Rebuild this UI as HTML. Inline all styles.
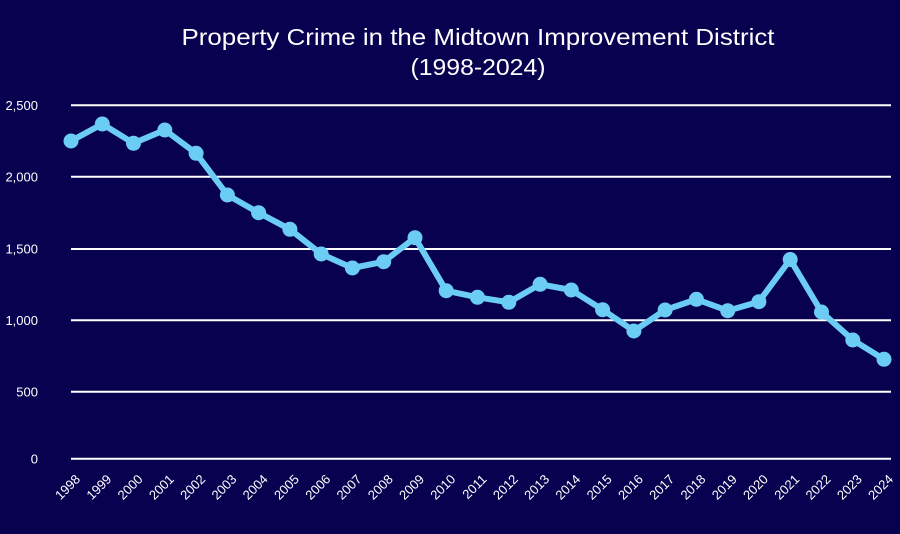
<!DOCTYPE html>
<html>
<head>
<meta charset="utf-8">
<style>
html,body{margin:0;padding:0;background:#070150;}
svg{display:block;}
</style>
</head>
<body>
<svg width="900" height="534" viewBox="0 0 900 534" xmlns="http://www.w3.org/2000/svg">
<rect width="900" height="534" fill="#070150"/>
<g font-family="Liberation Sans, DejaVu Sans, sans-serif" fill="#ffffff">
<text x="478" y="45" font-size="23" text-anchor="middle" textLength="593" lengthAdjust="spacingAndGlyphs">Property Crime in the Midtown Improvement District</text>
<text x="478" y="75" font-size="23" text-anchor="middle" textLength="135" lengthAdjust="spacingAndGlyphs">(1998-2024)</text>
</g>
<g stroke="#ffffff" stroke-width="2">
<line x1="71" y1="105.3" x2="891" y2="105.3"/>
<line x1="71" y1="176.7" x2="891" y2="176.7"/>
<line x1="71" y1="249" x2="891" y2="249"/>
<line x1="71" y1="320.2" x2="891" y2="320.2"/>
<line x1="71" y1="391.8" x2="891" y2="391.8"/>
<line x1="71" y1="458.7" x2="891" y2="458.7"/>
</g>
<g font-family="Liberation Sans, DejaVu Sans, sans-serif" font-size="13" fill="#ffffff" text-anchor="end">
<text x="38" y="110">2,500</text>
<text x="38" y="181.5">2,000</text>
<text x="38" y="253.5">1,500</text>
<text x="38" y="324.8">1,000</text>
<text x="38" y="396.5">500</text>
<text x="38" y="463.3">0</text>
</g>
<g fill="none" stroke="#6ccdf4" stroke-width="6" stroke-linejoin="round" stroke-linecap="round">
<polyline points="71,141 102.3,124 133.5,143.3 164.8,130 196.1,153.3 227.4,195 258.6,212.7 289.9,229.3 321.2,254 352.4,268 383.7,261.7 415,237.7 446.2,290.7 477.5,297.3 508.8,302.3 540.1,284.3 571.3,290 602.6,309.7 633.9,331 665.1,310 696.4,299.3 727.7,310.7 758.9,301.7 790.2,259.5 821.5,312 852.8,340 884,359.3"/>
</g>
<g fill="#6ccdf4">
<circle cx="71" cy="141" r="7.5"/>
<circle cx="102.3" cy="124" r="7.5"/>
<circle cx="133.5" cy="143.3" r="7.5"/>
<circle cx="164.8" cy="130" r="7.5"/>
<circle cx="196.1" cy="153.3" r="7.5"/>
<circle cx="227.4" cy="195" r="7.5"/>
<circle cx="258.6" cy="212.7" r="7.5"/>
<circle cx="289.9" cy="229.3" r="7.5"/>
<circle cx="321.2" cy="254" r="7.5"/>
<circle cx="352.4" cy="268" r="7.5"/>
<circle cx="383.7" cy="261.7" r="7.5"/>
<circle cx="415" cy="237.7" r="7.5"/>
<circle cx="446.2" cy="290.7" r="7.5"/>
<circle cx="477.5" cy="297.3" r="7.5"/>
<circle cx="508.8" cy="302.3" r="7.5"/>
<circle cx="540.1" cy="284.3" r="7.5"/>
<circle cx="571.3" cy="290" r="7.5"/>
<circle cx="602.6" cy="309.7" r="7.5"/>
<circle cx="633.9" cy="331" r="7.5"/>
<circle cx="665.1" cy="310" r="7.5"/>
<circle cx="696.4" cy="299.3" r="7.5"/>
<circle cx="727.7" cy="310.7" r="7.5"/>
<circle cx="758.9" cy="301.7" r="7.5"/>
<circle cx="790.2" cy="259.5" r="7.5"/>
<circle cx="821.5" cy="312" r="7.5"/>
<circle cx="852.8" cy="340" r="7.5"/>
<circle cx="884" cy="359.3" r="7.5"/>
</g>
<g font-family="Liberation Sans, DejaVu Sans, sans-serif" font-size="13" fill="#ffffff" text-anchor="end">
<text transform="translate(81,480) rotate(-45)">1998</text>
<text transform="translate(112.3,480) rotate(-45)">1999</text>
<text transform="translate(143.5,480) rotate(-45)">2000</text>
<text transform="translate(174.8,480) rotate(-45)">2001</text>
<text transform="translate(206.1,480) rotate(-45)">2002</text>
<text transform="translate(237.4,480) rotate(-45)">2003</text>
<text transform="translate(268.6,480) rotate(-45)">2004</text>
<text transform="translate(299.9,480) rotate(-45)">2005</text>
<text transform="translate(331.2,480) rotate(-45)">2006</text>
<text transform="translate(362.4,480) rotate(-45)">2007</text>
<text transform="translate(393.7,480) rotate(-45)">2008</text>
<text transform="translate(425,480) rotate(-45)">2009</text>
<text transform="translate(456.2,480) rotate(-45)">2010</text>
<text transform="translate(487.5,480) rotate(-45)">2011</text>
<text transform="translate(518.8,480) rotate(-45)">2012</text>
<text transform="translate(550.1,480) rotate(-45)">2013</text>
<text transform="translate(581.3,480) rotate(-45)">2014</text>
<text transform="translate(612.6,480) rotate(-45)">2015</text>
<text transform="translate(643.9,480) rotate(-45)">2016</text>
<text transform="translate(675.1,480) rotate(-45)">2017</text>
<text transform="translate(706.4,480) rotate(-45)">2018</text>
<text transform="translate(737.7,480) rotate(-45)">2019</text>
<text transform="translate(768.9,480) rotate(-45)">2020</text>
<text transform="translate(800.2,480) rotate(-45)">2021</text>
<text transform="translate(831.5,480) rotate(-45)">2022</text>
<text transform="translate(862.8,480) rotate(-45)">2023</text>
<text transform="translate(894,480) rotate(-45)">2024</text>
</g>
</svg>
</body>
</html>
